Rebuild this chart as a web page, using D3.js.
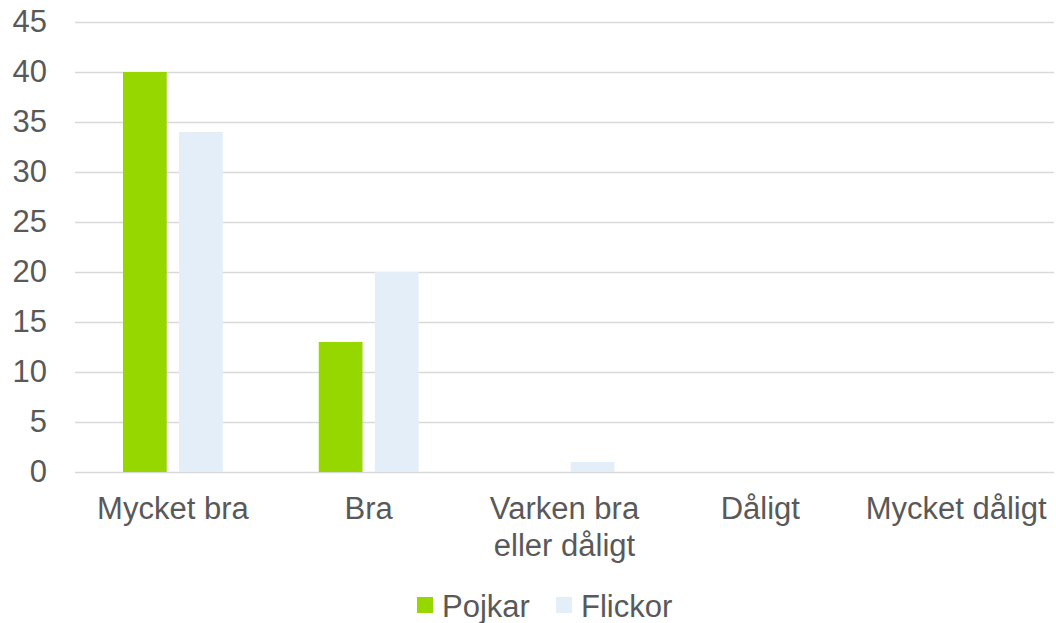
<!DOCTYPE html>
<html lang="sv">
<head>
    <meta charset="UTF-8">
    <script src="https://cdn.jsdelivr.net/npm/d3@7/dist/d3.min.js"></script>
    <title>Pojkar och flickor</title>
    <style>
        body { margin: 0; background: #fff; }
        text { font-family: "Liberation Sans", Arial, sans-serif; fill: #595959; }
    </style>
</head>
<body>
<script>
    var categories = ["Mycket bra", "Bra", "Varken bra eller dåligt", "Dåligt", "Mycket dåligt"];
    var seriesNames = ["Pojkar", "Flickor"];
    var pojkar = [40, 13, 0, 0, 0];
    var flickor = [34, 20, 1, 0, 0];
    var yTicks = [0, 5, 10, 15, 20, 25, 30, 35, 40, 45];
    var colors = ["#97d700", "#e3eef8"];

    var W = 1056, H = 623;
    var plotL = 75, plotR = 1054, plotT = 22, plotB = 472;

    var svg = d3.select("body").append("svg")
        .attr("width", W)
        .attr("height", H);

    var rows = categories.map(function (c, i) {
        return { cat: c, values: [pojkar[i], flickor[i]] };
    });

    var x0 = d3.scaleBand()
        .domain(categories)
        .range([plotL, plotR])
        .paddingInner(0.49)
        .paddingOuter(0.245);

    var x1 = d3.scaleBand()
        .domain(seriesNames)
        .range([0, x0.bandwidth()])
        .paddingInner(0.22);

    var y = d3.scaleLinear()
        .domain([0, 45])
        .range([plotB, plotT]);

    // gridlines + y labels
    var yAxis = svg.append("g")
        .attr("transform", "translate(" + plotL + ",0)")
        .call(d3.axisLeft(y).tickValues(yTicks).tickSize(-(plotR - plotL)).tickPadding(28));
    yAxis.select(".domain").remove();
    yAxis.selectAll(".tick line").attr("stroke", "#d9d9d9").attr("stroke-width", 1.3);
    yAxis.selectAll(".tick text")
        .style("font-size", "31px")
        .attr("fill", "#595959");

    // bars
    svg.append("g").selectAll("g")
        .data(rows)
        .enter().append("g")
        .attr("transform", function (d) { return "translate(" + x0(d.cat) + ",0)"; })
        .selectAll("rect")
        .data(function (d) { return d.values.map(function (v, j) { return { s: seriesNames[j], v: v, j: j }; }); })
        .enter().append("rect")
        .attr("x", function (d) { return x1(d.s); })
        .attr("width", x1.bandwidth())
        .attr("y", function (d) { return y(d.v); })
        .attr("height", function (d) { return y(0) - y(d.v); })
        .attr("fill", function (d) { return colors[d.j]; });

    // x axis labels
    var xAxis = svg.append("g")
        .attr("transform", "translate(0," + plotB + ")")
        .call(d3.axisBottom(x0).tickSize(0).tickPadding(0));
    xAxis.select(".domain").remove();
    xAxis.selectAll(".tick text")
        .style("font-size", "31px")
        .attr("fill", "#595959")
        .attr("dy", null)
        .attr("y", 47)
        .call(wrap, x0.step() - 2);

    function wrap(sel, width) {
        sel.each(function () {
            var t = d3.select(this);
            var words = t.text().split(" ");
            var lines = [], line = [];
            t.text(null);
            var ts = t.append("tspan").attr("x", 0);
            words.forEach(function (w) {
                line.push(w);
                ts.text(line.join(" "));
                if (ts.node().getComputedTextLength() > width && line.length > 1) {
                    line.pop();
                    lines.push(line.join(" "));
                    line = [w];
                    ts.text(w);
                }
            });
            lines.push(line.join(" "));
            t.text(null);
            lines.forEach(function (l, k) {
                t.append("tspan").attr("x", 0).attr("dy", k === 0 ? 0 : 37).text(l);
            });
        });
    }

    // legend
    var legendX = [417, 556];
    var legend = svg.append("g").selectAll("g")
        .data(seriesNames)
        .enter().append("g")
        .attr("transform", function (d, i) { return "translate(" + legendX[i] + ",597)"; });
    legend.append("rect")
        .attr("width", 16)
        .attr("height", 16)
        .attr("fill", function (d, i) { return colors[i]; });
    legend.append("text")
        .attr("x", 25)
        .attr("y", 19.5)
        .style("font-size", "31px")
        .text(function (d) { return d; });
</script>
</body>
</html>
